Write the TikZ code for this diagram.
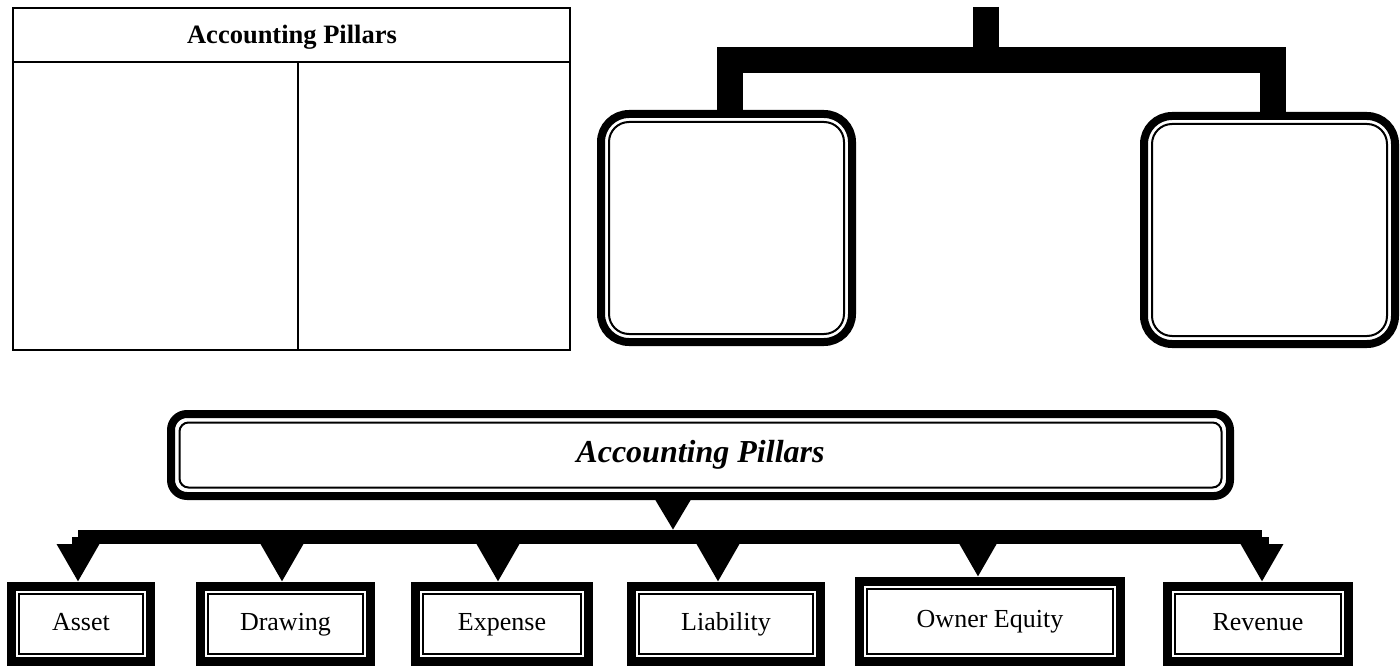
\documentclass[tikz,border=0pt]{standalone}
\usepackage{fontspec}
\setmainfont{Liberation Serif}
\usetikzlibrary{calc,arrows.meta}
\tikzset{
  rbox/.style={draw, line width=8pt, rounded corners=28pt, outer sep=0pt, inner sep=0pt},
  banner/.style={draw, line width=8pt, rounded corners=16pt, outer sep=0pt, inner sep=0pt,
    font=\fontsize{32}{36}\selectfont\bfseries\itshape},
  sbox/.style={draw, line width=9pt, outer sep=4.5pt, inner sep=0pt,
    font=\fontsize{26}{30}\selectfont, text height=18pt, text depth=6pt},
  inline/.style={line width=2pt},
  bracket/.style={line width=26pt, line join=miter},
  busline/.style={line width=14pt},
  downarrow/.style={line width=13pt, -{Triangle[width=40pt,length=38pt]}},
  bannerarrow/.style={line width=10pt, -{Triangle[width=33pt,length=30pt]}},
  tableline/.style={line width=2pt},
}
\begin{document}
\begin{tikzpicture}[x=1pt,y=-1pt]
\useasboundingbox (0,0) rectangle (1400,666);

% ---------- table ----------
\draw[tableline] (13,8) rectangle (570,350);
\draw[tableline] (13,62) -- (570,62);
\draw[tableline] (298,62) -- (298,350);
\node[anchor=base, font=\fontsize{26.5}{30}\selectfont\bfseries, inner sep=0pt] (ttitle) at (292,44) {Accounting Pillars};

% ---------- top right bracket ----------
\node[rbox, minimum width=251pt, minimum height=228pt] (lbox) at (726.5,228) {};
\node[rbox, minimum width=251pt, minimum height=228pt] (rbox) at (1269.5,230) {};
\draw[inline, rounded corners=20pt] ($(lbox.north west)+(8,8)$) rectangle ($(lbox.south east)-(8,8)$);
\draw[inline, rounded corners=20pt] ($(rbox.north west)+(8,8)$) rectangle ($(rbox.south east)-(8,8)$);
\coordinate (topc) at (986,7);
\coordinate (lc) at (730,60);
\coordinate (rc) at (1273,60);
\draw[bracket] (lc |- lbox.north) -- (lc) -- (rc) -- (rc |- rbox.north);
\draw[bracket] (topc) -- (topc |- lc);

% ---------- banner ----------
\node[banner, minimum width=1059pt, minimum height=82pt] (ban) at (700.5,455) {Accounting Pillars};
\draw[inline, rounded corners=9pt] ($(ban.north west)+(8.5,8.5)$) rectangle ($(ban.south east)-(8.5,8.5)$);

% ---------- bottom boxes ----------
\foreach \n/\t/\cx/\w in {asset/Asset/81/139, drawing/Drawing/285.5/170, expense/Expense/502/173, liability/Liability/726/189, revenue/Revenue/1258/181}{
  \node[sbox, minimum width=\w pt, minimum height=75pt] (\n) at (\cx,624) {\t};
  \draw[inline] ($(\n.north west)+(12,12)$) rectangle ($(\n.south east)-(12,12)$);
}
\node[sbox, minimum width=261pt, minimum height=80pt] (owner) at (990,621.5) {Owner Equity};
\draw[inline] ($(owner.north west)+(12,12)$) rectangle ($(owner.south east)-(12,12)$);

% ---------- bus and arrows ----------
\coordinate (busL) at (78,537);
\coordinate (busR) at (1262,537);
\draw[busline] (busL) -- (busR);
\coordinate (ba) at (673,0);
\draw[bannerarrow] (ba |- ban.south) -- (ba |- 0,530);
\foreach \n/\ax in {asset/78, drawing/282, expense/498, liability/718, owner/978, revenue/1262}{
  \coordinate (a\n) at (\ax,537);
  \draw[downarrow] (a\n) -- (a\n |- \n.north);
}
\end{tikzpicture}
\end{document}
